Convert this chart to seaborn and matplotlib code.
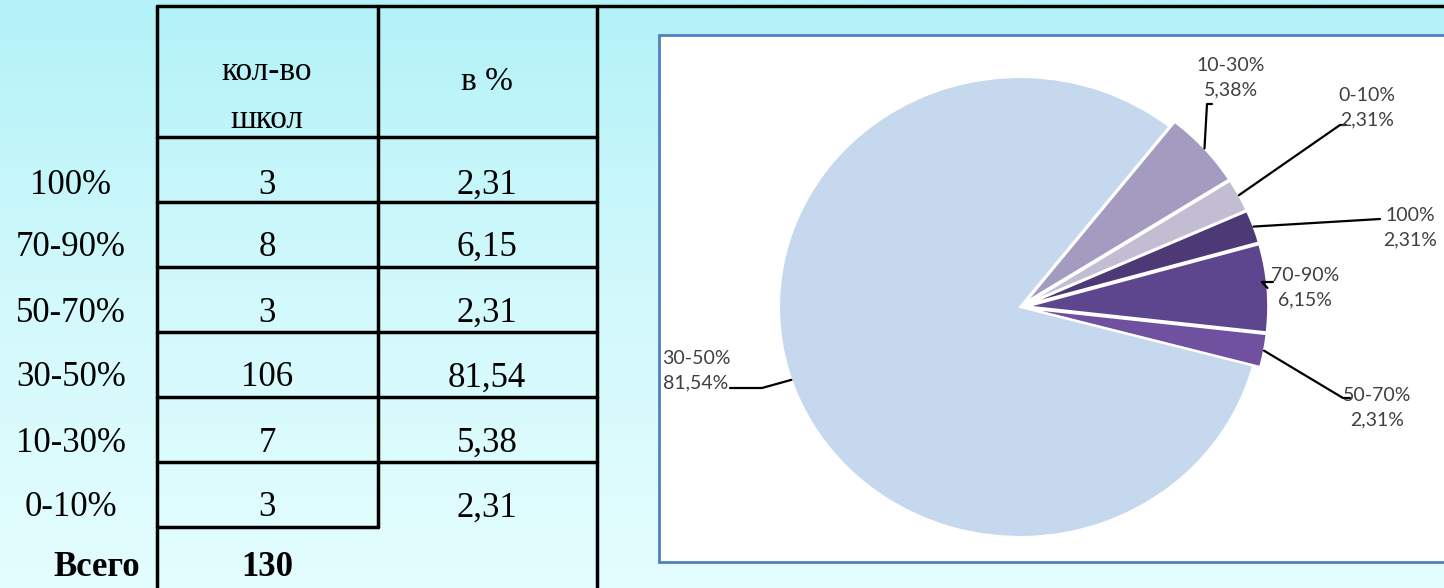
import numpy as np
import matplotlib
matplotlib.use('Agg')
import matplotlib.pyplot as plt
import seaborn as sns
from matplotlib.colors import LinearSegmentedColormap
from matplotlib.patches import Rectangle

# данные
groups = ['100%', '70-90%', '50-70%', '30-50%', '10-30%', '0-10%']
schools = [3, 8, 3, 106, 7, 3]
percents = ['2,31', '6,15', '2,31', '81,54', '5,38', '2,31']
total_label = 'Всего'
total_value = 130
head_count = ['кол-во', 'школ']
head_pct = 'в %'

pie_colors = ['#4E3977', '#5D468D', '#70519F', '#C5D8EE', '#A49CC0', '#C3BDD4']

sns.set_theme(style='white')
plt.rcParams['font.family'] = ['Liberation Serif', 'DejaVu Serif']
plt.rcParams['text.color'] = 'black'

W, H = 1444, 588
fig = plt.figure(figsize=(W / 100, H / 100), dpi=100)

# фон и таблица (в пикселях)
bg = fig.add_axes([0, 0, 1, 1])
cmap = LinearSegmentedColormap.from_list('bg', ['#B2F2F8', '#D2F9FC', '#E4FDFE'])
grad = np.linspace(0, 1, 256).reshape(-1, 1)
bg.imshow(grad, cmap=cmap, aspect='auto', extent=(0, W, H, 0))
bg.set_xlim(0, W)
bg.set_ylim(H, 0)
bg.axis('off')

lw = 2.5
bg.plot([157, W], [6, 6], color='black', lw=lw)
rows_y = [137, 202, 267, 332, 397, 462]
for y in rows_y:
    bg.plot([157, 597], [y, y], color='black', lw=lw)
bg.plot([157, 378], [527, 527], color='black', lw=lw)
bg.plot([157, 157], [6, H], color='black', lw=lw)
bg.plot([378, 378], [6, 527], color='black', lw=lw)
bg.plot([597, 597], [6, H], color='black', lw=lw)

fs = 25
bg.text(267, 72, head_count[0], ha='center', va='center', fontsize=fs - 1)
bg.text(267, 120, head_count[1], ha='center', va='center', fontsize=fs - 1)
bg.text(487, 82, head_pct, ha='center', va='center', fontsize=fs - 1)

centers = [185, 247, 313, 378, 443, 508]
for i, g in enumerate(groups):
    y = centers[i]
    bg.text(71, y, g, ha='center', va='center', fontsize=fs)
    bg.text(267, y, str(schools[i]), ha='center', va='center', fontsize=fs)
    bg.text(487, y, percents[i], ha='center', va='center', fontsize=fs)
bg.text(97, 567, total_label, ha='center', va='center', fontsize=fs, fontweight='bold')
bg.text(267, 567, str(total_value), ha='center', va='center', fontsize=fs, fontweight='bold')

# рамка диаграммы
bg.add_patch(Rectangle((659, 35), 820, 527, facecolor='white', edgecolor='#4F81BD', lw=2, zorder=3))

# круговая диаграмма
x0, x1, y0, y1 = 659, W, 35, 562
cx, cy = 1020, 307
sx, sy = 241, 230
ax = fig.add_axes([x0 / W, (H - y1) / H, (x1 - x0) / W, (y1 - y0) / H], zorder=5)
ax.patch.set_alpha(0)

explode = [0.03 if v < 50 else 0 for v in schools]
wedges, _ = ax.pie(schools, colors=pie_colors, startangle=24, counterclock=False,
                   explode=explode, wedgeprops=dict(edgecolor='white', linewidth=1.5))
ax.set_aspect('auto')
ax.set_xlim((x0 - cx) / sx, (x1 - cx) / sx)
ax.set_ylim((cy - y1) / sy, (cy - y0) / sy)
ax.axis('off')


def px(p, q):
    return (p - cx) / sx, (cy - q) / sy


# подписи: положение текста и изломы выносок (в пикселях)
label_pos = {
    '10-30%': ((1231, 78), [(1207, 104), (1212, 104)]),
    '0-10%': ((1367, 108), [(1340, 125), (1346, 125)]),
    '100%': ((1410, 228), [(1380, 219)]),
    '70-90%': ((1305, 288), [(1262, 282), (1273, 282)]),
    '50-70%': ((1377, 408), [(1343, 398), (1350, 398)]),
    '30-50%': ((696, 371), [(762, 388), (730, 388)]),
}

for w, g, p in zip(wedges, groups, percents):
    mid = np.deg2rad((w.theta1 + w.theta2) / 2)
    ex, ey = w.center
    pt = (ex + w.r * np.cos(mid), ey + w.r * np.sin(mid))
    (tx, ty), elbows = label_pos[g]
    xs = [pt[0]] + [px(*e)[0] for e in elbows]
    ys = [pt[1]] + [px(*e)[1] for e in elbows]
    ax.plot(xs, ys, color='black', lw=1.6, clip_on=False)
    ax.text(*px(tx, ty), f'{g}\n{p}%', ha='center', va='center', fontsize=14,
            color='#404040', linespacing=1.55,
            family=['Liberation Sans Narrow', 'Lato', 'DejaVu Sans'])

fig.savefig('out.png', dpi=100)
